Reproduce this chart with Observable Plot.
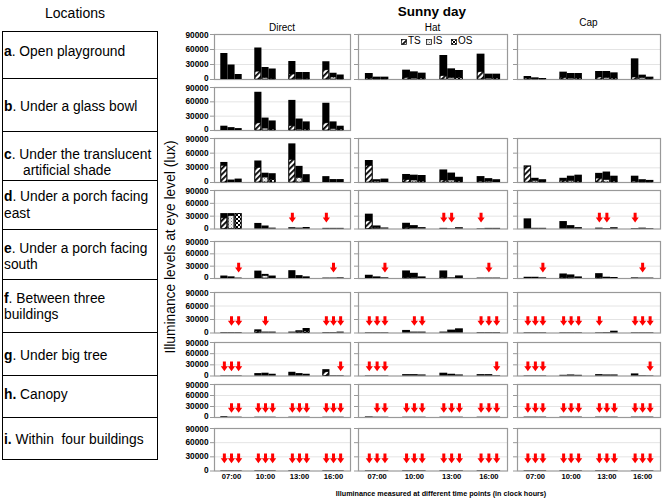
<!DOCTYPE html>
<html><head><meta charset="utf-8">
<script src="https://cdn.jsdelivr.net/npm/d3@7"></script>
<script src="https://cdn.jsdelivr.net/npm/@observablehq/plot@0.6"></script>
<style>
body{margin:0;background:#fff;}
#root{position:relative;width:666px;height:498px;font-family:"Liberation Sans",Arial,sans-serif;color:#000;overflow:hidden;background:#fff;}
.abs{position:absolute;white-space:pre;}
.ctr{transform:translate(-50%,-50%);}
</style></head><body>
<svg width="0" height="0" style="position:absolute"><defs>
<pattern id="pTS" width="4" height="4" patternUnits="userSpaceOnUse" patternTransform="rotate(45)"><rect width="4" height="4" fill="#fff"/><rect width="1.8" height="4" fill="#000"/></pattern>
<pattern id="pIS" width="3" height="3" patternUnits="userSpaceOnUse"><rect width="3" height="3" fill="#f4f4f4"/><rect width="1" height="1" fill="#888"/><rect x="1.5" y="1.5" width="1" height="1" fill="#aaa"/></pattern>
<pattern id="pOS" width="4" height="4" patternUnits="userSpaceOnUse"><rect width="4" height="4" fill="#fff"/><rect width="2" height="2" fill="#000"/><rect x="2" y="2" width="2" height="2" fill="#000"/></pattern>
</defs></svg>
<div id="root"></div>
<script>
// ---------- data ----------
const times = ["07:00", "10:00", "13:00", "16:00"];
const series = ["TS", "IS", "OS"];
const conditions = ["Direct", "Hat", "Cap"];
const locations = [
  ["a", "Open playground"],
  ["b", "Under a glass bowl"],
  ["c", "Under the translucent", "artificial shade"],
  ["d", "Under a porch facing", "east"],
  ["e", "Under a porch facing", "south"],
  ["f", "Between three", "buildings"],
  ["g", "Under big tree"],
  ["h", "Canopy"],
  ["i", "Within  four buildings"]
];
const yTicks = [0, 30000, 60000, 90000];
const arrowLevel = 30000;

// each row: 4 time points x (TS, IS, OS)
const directTotal = [
  [52000, 29000, 10000, 63000, 24000, 21000, 36000, 14000, 14000, 35500, 12500, 9000],
  [9000, 6000, 4000, 80000, 26000, 20000, 63000, 24000, 18000, 57000, 18000, 9000],
  [41000, 5000, 7000, 44000, 19000, 18000, 79000, 33000, 16000, 12000, 6000, 6000],
  [36000, 36000, 36000, 13000, 7000, 2000, 3000, 2000, 3500, 1500, 1500, 1500],
  [6000, 4000, 1000, 18000, 10000, 6000, 19000, 7000, 4000, 1000, 1000, 1500],
  [1000, 1000, 1000, 7000, 2000, 2000, 2000, 5000, 10000, 1000, 1000, 2000],
  [800, 800, 800, 6500, 7500, 4700, 10000, 6500, 4700, 17000, 1000, 1000],
  [2000, 800, 800, 800, 800, 800, 800, 800, 800, 800, 800, 800],
  [800, 800, 800, 800, 800, 800, 800, 800, 800, 800, 800, 800]
];
const directPattern = [
  [0, 0, 0, 15700, 3000, 1500, 10000, 1500, 1500, 18400, 4000, 1000],
  [0, 0, 0, 15000, 4000, 2000, 9000, 2000, 2000, 15000, 3000, 2000],
  [34000, 0, 0, 30000, 10000, 5000, 46000, 9000, 0, 0, 0, 0],
  [25000, 30000, 35000, 0, 0, 0, 0, 0, 0, 0, 0, 0],
  [0, 0, 0, 0, 6000, 0, 0, 0, 0, 0, 0, 0],
  [0, 0, 0, 3000, 0, 0, 0, 2000, 3000, 0, 0, 0],
  [0, 0, 0, 0, 0, 0, 0, 0, 0, 10000, 0, 0],
  [0, 0, 0, 0, 0, 0, 0, 0, 0, 0, 0, 0],
  [0, 0, 0, 0, 0, 0, 0, 0, 0, 0, 0, 0]
];
const directArrow = [
  [0, 0, 0, 0, 0, 0, 0, 0, 0, 0, 0, 0],
  [0, 0, 0, 0, 0, 0, 0, 0, 0, 0, 0, 0],
  [0, 0, 0, 0, 0, 0, 0, 0, 0, 0, 0, 0],
  [0, 0, 0, 0, 0, 0, 1, 0, 0, 1, 0, 0],
  [0, 0, 1, 0, 0, 0, 0, 0, 0, 0, 1, 0],
  [0, 1, 1, 0, 1, 0, 0, 0, 0, 1, 1, 1],
  [1, 1, 1, 0, 0, 0, 0, 0, 0, 0, 0, 1],
  [0, 1, 1, 1, 1, 1, 1, 1, 1, 1, 1, 1],
  [1, 1, 1, 1, 1, 1, 1, 1, 1, 1, 1, 1]
];
const hatTotal = [
  [12000, 4700, 4700, 18700, 15300, 12700, 48000, 21300, 18000, 50700, 10700, 10700],
  null,
  [45000, 5700, 7000, 16400, 15000, 14300, 25700, 19300, 10700, 12100, 7900, 5700],
  [34700, 7100, 2400, 13400, 7900, 3200, 1500, 800, 3000, 800, 1500, 1500],
  [7900, 3900, 1600, 18400, 12600, 3900, 18400, 1600, 6300, 1000, 1000, 1000],
  [800, 800, 800, 5700, 2000, 2000, 2000, 6400, 9300, 1000, 1000, 1000],
  [800, 800, 800, 3700, 3700, 2800, 7500, 4700, 2800, 3700, 3700, 1000],
  [1500, 800, 800, 800, 800, 800, 800, 800, 800, 800, 800, 800],
  [800, 800, 800, 800, 800, 800, 800, 800, 800, 800, 800, 800]
];
const hatPattern = [
  [2000, 1000, 1000, 3000, 2000, 2000, 6700, 3000, 3000, 14700, 2000, 2000],
  null,
  [34000, 2000, 0, 5000, 4000, 2000, 4000, 4000, 2000, 2000, 2000, 0],
  [18000, 2000, 0, 2000, 0, 0, 0, 0, 0, 0, 0, 0],
  [0, 0, 0, 2000, 2000, 0, 2000, 0, 0, 0, 0, 0],
  [0, 0, 0, 0, 0, 0, 0, 0, 0, 0, 0, 0],
  [0, 0, 0, 0, 0, 0, 0, 0, 0, 0, 0, 0],
  [0, 0, 0, 0, 0, 0, 0, 0, 0, 0, 0, 0],
  [0, 0, 0, 0, 0, 0, 0, 0, 0, 0, 0, 0]
];
const hatArrow = [
  [0, 0, 0, 0, 0, 0, 0, 0, 0, 0, 0, 0],
  null,
  [0, 0, 0, 0, 0, 0, 0, 0, 0, 0, 0, 0],
  [0, 0, 0, 0, 0, 0, 1, 1, 0, 1, 0, 0],
  [0, 0, 1, 0, 0, 0, 0, 0, 0, 0, 1, 0],
  [1, 1, 1, 0, 1, 1, 0, 0, 0, 1, 1, 1],
  [1, 1, 1, 0, 0, 0, 0, 0, 0, 0, 0, 1],
  [0, 1, 1, 1, 1, 1, 1, 1, 1, 1, 1, 1],
  [1, 1, 1, 1, 1, 1, 1, 1, 1, 1, 1, 1]
];
const capTotal = [
  [6000, 3300, 2000, 14700, 12000, 12000, 16000, 16000, 13300, 41300, 8700, 4700],
  null,
  [34000, 8600, 5700, 8600, 12900, 15000, 18700, 21400, 12900, 12900, 5700, 4300],
  [23700, 1600, 1600, 17400, 7900, 3200, 2000, 1000, 3000, 1000, 2000, 1000],
  [3000, 3000, 1500, 11000, 8700, 3900, 11800, 3100, 2400, 1500, 1000, 1000],
  [800, 800, 800, 800, 800, 800, 800, 1000, 4000, 800, 800, 800],
  [800, 800, 800, 1900, 2800, 1900, 3700, 2800, 2800, 5600, 1000, 800],
  [1000, 1000, 1000, 1000, 1000, 1000, 1000, 1000, 1000, 1000, 1000, 1000],
  [800, 800, 800, 800, 800, 800, 800, 800, 800, 800, 800, 800]
];
const capPattern = [
  [2000, 1000, 1000, 3000, 2000, 2000, 4000, 3000, 2000, 4000, 3000, 1000],
  null,
  [32000, 3000, 1000, 3000, 3000, 2000, 8000, 5000, 2000, 2000, 1000, 1000],
  [0, 0, 0, 0, 0, 0, 0, 0, 0, 0, 0, 0],
  [0, 0, 0, 2000, 2000, 0, 2000, 0, 0, 0, 0, 0],
  [0, 0, 0, 0, 0, 0, 0, 0, 0, 0, 0, 0],
  [0, 0, 0, 0, 0, 0, 0, 0, 0, 0, 0, 0],
  [0, 0, 0, 0, 0, 0, 0, 0, 0, 0, 0, 0],
  [0, 0, 0, 0, 0, 0, 0, 0, 0, 0, 0, 0]
];
const capArrow = [
  [0, 0, 0, 0, 0, 0, 0, 0, 0, 0, 0, 0],
  null,
  [0, 0, 0, 0, 0, 0, 0, 0, 0, 0, 0, 0],
  [0, 0, 0, 0, 0, 0, 1, 1, 0, 1, 0, 0],
  [0, 0, 1, 0, 0, 0, 0, 0, 0, 0, 1, 0],
  [1, 1, 1, 1, 1, 1, 1, 0, 0, 1, 1, 1],
  [1, 1, 1, 0, 0, 0, 0, 0, 0, 0, 0, 1],
  [1, 1, 1, 1, 1, 1, 1, 1, 1, 1, 1, 1],
  [1, 1, 1, 1, 1, 1, 1, 1, 1, 1, 1, 1]
];
const totals = [directTotal, hatTotal, capTotal];
const patterns = [directPattern, hatPattern, capPattern];
const arrows = [directArrow, hatArrow, capArrow];

// ---------- layout ----------
const root = document.getElementById("root");
function addDiv(html, css, cls = "abs") {
  const d = document.createElement("div");
  d.className = cls;
  d.innerHTML = html;
  Object.assign(d.style, css);
  root.appendChild(d);
  return d;
}

const rowFrames = [[34, 79], [87, 130], [137.5, 181.5], [190, 228.5], [241, 278], [292, 332.5], [342, 375.5], [384, 417], [428, 470.5]];
const colFrames = [[214, 350], [358, 507], [517, 660]];
const tableLines = [31, 78, 131, 180, 229, 279, 332, 375, 417, 460];
const textCenters = [51.7, 106, 154, 196.7, 248.3, 298.3, 355.7, 394, 439];

// left table
addDiv("Locations", {left: "75px", top: "13px", fontSize: "14px"}, "abs ctr");
for (let i = 0; i < locations.length; i++) {
  addDiv("", {left: "2px", top: tableLines[i] + "px", width: "156px", height: (tableLines[i + 1] - tableLines[i]) + "px",
    border: "1px solid #000", borderBottom: i === locations.length - 1 ? "1px solid #000" : "none", boxSizing: "border-box"});
  const [letter, l1, l2] = locations[i];
  const boldDot = (letter === "h" || letter === "i");
  addDiv(`<b>${letter}${boldDot ? "." : ""}</b>${boldDot ? "" : "."} ${l1}`, {left: "4px", top: (textCenters[i] - 8.5) + "px", fontSize: "13.8px", lineHeight: "17px"});
  if (l2) addDiv(l2, {left: letter === "c" ? "23px" : "4px", top: (textCenters[i] + 16.6 - 8.5) + "px", fontSize: "13.8px", lineHeight: "17px"});
}

// titles
addDiv("Sunny day", {left: "432px", top: "11px", fontSize: "13.5px", fontWeight: "bold"}, "abs ctr");
const colTitleY = [27, 27, 22];
conditions.forEach((c, i) => addDiv(c, {left: ((colFrames[i][0] + colFrames[i][1]) / 2) + "px", top: colTitleY[i] + "px", fontSize: "10px"}, "abs ctr"));
addDiv("Illuminance levels at eye level (lux)", {left: "170px", top: "247px", fontSize: "13.8px", transform: "translate(-50%,-50%) rotate(-90deg)"});
addDiv("Illuminance measured at different time points (in clock hours)", {left: "441px", top: "493px", fontSize: "7.2px", fontWeight: "bold", color: "#000"}, "abs ctr");

// legend
const legX = [401, 426, 451];
series.forEach((s, i) => {
  addDiv(`<svg width="6" height="6" style="vertical-align:-0.5px;margin-right:1px"><rect x="0.5" y="0.5" width="5" height="5" fill="url(#p${s})" stroke="#000" stroke-width="0.7"/></svg>${s}`,
    {left: legX[i] + "px", top: "35px", fontSize: "10px", lineHeight: "12px"});
});

// arrow symbol
const arrowSymbol = {
  draw(ctx) {
    ctx.moveTo(-1.5, -4.8); ctx.lineTo(1.5, -4.8); ctx.lineTo(1.5, -0.2);
    ctx.lineTo(3.6, -0.2); ctx.lineTo(0, 4.8); ctx.lineTo(-3.6, -0.2);
    ctx.lineTo(-1.5, -0.2); ctx.closePath();
  }
};

const bw = 0.21;
const xa = d => d.g + (d.s - 1.5) * bw;
const xb = d => d.g + (d.s - 0.5) * bw;
const yLabelStyle = {tickSize: 0, tickPadding: 6, fill: "#000", fontSize: 8.3, fontWeight: "bold", label: null, tickFormat: d3.format("d")};

for (let r = 0; r < 9; r++) {
  for (let c = 0; c < 3; c++) {
    const tot = totals[c][r];
    if (!tot) continue;
    const pat = patterns[c][r], arr = arrows[c][r];
    const data = [];
    for (let g = 0; g < times.length; g++) for (let s = 0; s < series.length; s++) {
      const k = g * 3 + s;
      data.push({g, s, time: times[g], series: series[s], total: tot[k], pattern: pat[k], arrow: arr[k]});
    }
    const [t, b] = rowFrames[r], [l, rr] = colFrames[c];
    const mL = c === 0 ? 40 : 6, mR = 2, mT = 2, mB = r === 8 ? 16 : 2;
    const marks = [
      Plot.ruleY([30000, 60000], {stroke: "#e4e4e4"}),
      Plot.frame({stroke: "#999", strokeWidth: 1.2}),
      Plot.axisY({ticks: yTicks, tickSize: 4, stroke: "#999", tickFormat: () => "", label: null}),
      Plot.rect(data, {x1: xa, x2: xb, y1: 0, y2: "total", fill: "#000"})
    ];
    if (c === 0) {
      marks.push(
        Plot.axisY({...yLabelStyle, ticks: [30000, 60000]}),
        Plot.axisY({...yLabelStyle, ticks: [90000], dy: 1}),
        Plot.axisY({...yLabelStyle, ticks: [0], dy: -1})
      );
    }
    series.forEach((s, si) => {
      marks.push(Plot.rect(data.filter(d => d.s === si && d.pattern > 0),
        {x1: xa, x2: xb, y1: 0, y2: "pattern", fill: `url(#p${s})`, stroke: "#000", strokeWidth: 0.6, insetLeft: 0.7, insetRight: 0.7}));
    });
    marks.push(Plot.dot(data.filter(d => d.arrow), {x: d => d.g + (d.s - 1) * bw, y: () => arrowLevel, dy: 1.5,
      symbol: arrowSymbol, fill: "#f00", stroke: "none", r: 5}));
    if (r === 8) marks.push(Plot.axisX({ticks: [0, 1, 2, 3], tickFormat: i => times[i], tickSize: 0, tickPadding: 3,
      fontSize: 7.6, fontWeight: "bold", label: null}));
    const svg = Plot.plot({
      width: (rr - l) + mL + mR, height: (b - t) + mT + mB,
      marginTop: mT, marginBottom: mB, marginLeft: mL, marginRight: mR,
      x: r === 8 ? {domain: [-0.5, 3.5]} : {domain: [-0.5, 3.5], axis: null},
      y: {domain: [0, 90000]},
      style: {background: "transparent", overflow: "visible", fontFamily: "Liberation Sans, Arial, sans-serif", color: "#000"},
      marks
    });
    svg.style.position = "absolute";
    svg.style.left = (l - mL) + "px";
    svg.style.top = (t - mT) + "px";
    root.appendChild(svg);
  }
}
</script></body></html>
